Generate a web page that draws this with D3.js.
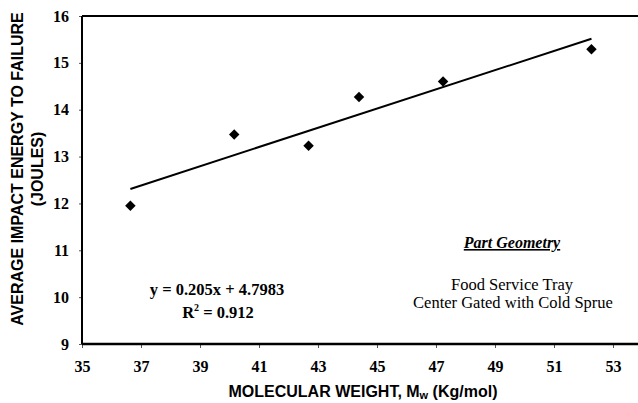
<!DOCTYPE html>
<html>
<head>
<meta charset="utf-8">
<script src="https://cdn.jsdelivr.net/npm/d3@7"></script>
<style>
  body { margin: 0; background: #fff; }
  svg { display: block; }
</style>
</head>
<body>
<div id="chart"></div>
<script>
// molecular weight (Kg/mol) vs. average impact energy to failure (joules)
const mw     = [36.64, 40.16, 42.68, 44.39, 47.24, 52.27]
const energy = [11.95, 13.47, 13.23, 14.27, 14.60, 15.29]

const xTicks = [35, 37, 39, 41, 43, 45, 47, 49, 51, 53]
const yTicks = [9, 10, 11, 12, 13, 14, 15, 16]

// linear trend from the chart's own fit
const slope = 0.205
const intercept = 4.7983

const W = 638, H = 403
const m = { top: 16, left: 82, bottom: 59 }
const plotW = 531   // 35..53
const plotH = H - m.top - m.bottom

const svg = d3.select("#chart").append("svg")
  .attr("width", W).attr("height", H)

const g = svg.append("g").attr("transform", `translate(${m.left},${m.top})`)

const x = d3.scaleLinear().domain([35, 53]).range([0, plotW])
const y = d3.scaleLinear().domain([9, 16]).range([plotH, 0])

const serif = "'Liberation Serif', 'Times New Roman', serif"
const sans  = "'Liberation Sans', Arial, sans-serif"

// frame top edge (right side runs off the picture)
g.append("line")
  .attr("x1", 0).attr("x2", W).attr("y1", 0).attr("y2", 0)
  .attr("stroke", "#000").attr("stroke-width", 2)

// x axis
const xAxis = g.append("g")
  .attr("transform", `translate(0,${plotH})`)
  .call(d3.axisBottom(x).tickValues(xTicks).tickFormat(d3.format("d")).tickSize(4).tickPadding(13))
xAxis.select(".domain").remove()
xAxis.append("line")
  .attr("x1", 0).attr("x2", W).attr("stroke", "#000").attr("stroke-width", 2.5)
xAxis.selectAll(".tick line").attr("stroke", "#555")
xAxis.selectAll("text")
  .style("font-family", serif).style("font-weight", "bold").style("font-size", "16px")
  .attr("fill", "#000")

// y axis
const yAxis = g.append("g")
  .call(d3.axisLeft(y).tickValues(yTicks).tickFormat(d3.format("d")).tickSize(3).tickPadding(10))
yAxis.select(".domain").remove()
yAxis.append("line")
  .attr("y1", 0).attr("y2", plotH).attr("stroke", "#000").attr("stroke-width", 2)
yAxis.selectAll(".tick line").attr("stroke", "#555")
yAxis.selectAll("text")
  .style("font-family", serif).style("font-weight", "bold").style("font-size", "16px")
  .attr("fill", "#000")

// trend line across the range of the data
const xMin = d3.min(mw), xMax = d3.max(mw)
g.append("line")
  .attr("x1", x(xMin)).attr("y1", y(slope * xMin + intercept))
  .attr("x2", x(xMax)).attr("y2", y(slope * xMax + intercept))
  .attr("stroke", "#000").attr("stroke-width", 2)

// diamond markers
const diamond = d3.symbol().type(d3.symbolDiamond2).size(70)
g.selectAll(".pt")
  .data(mw.map((d, i) => ({ x: d, y: energy[i] })))
  .join("path")
  .attr("class", "pt")
  .attr("transform", d => `translate(${x(d.x)},${y(d.y)})`)
  .attr("d", diamond)
  .attr("fill", "#000")

// regression text
svg.append("text")
  .attr("x", 217).attr("y", 295)
  .attr("text-anchor", "middle")
  .style("font-family", serif).style("font-weight", "bold").style("font-size", "16.5px")
  .text("y = 0.205x + 4.7983")

const r2 = svg.append("text")
  .attr("x", 218).attr("y", 318)
  .attr("text-anchor", "middle")
  .style("font-family", serif).style("font-weight", "bold").style("font-size", "16.5px")
r2.append("tspan").text("R")
r2.append("tspan").attr("dy", -7).style("font-size", "10px").text("2")
r2.append("tspan").attr("dy", 7).text(" = 0.912")

// part geometry note
svg.append("text")
  .attr("x", 512).attr("y", 248)
  .attr("text-anchor", "middle")
  .style("font-family", serif).style("font-weight", "bold").style("font-style", "italic")
  .style("font-size", "16px").style("text-decoration", "underline")
  .text("Part Geometry")

svg.append("text")
  .attr("x", 512).attr("y", 290)
  .attr("text-anchor", "middle")
  .style("font-family", serif).style("font-size", "16.5px")
  .text("Food Service Tray")

svg.append("text")
  .attr("x", 513).attr("y", 308)
  .attr("text-anchor", "middle")
  .style("font-family", serif).style("font-size", "16.5px")
  .text("Center Gated with Cold Sprue")

// axis titles
const yTitle = svg.append("text")
  .attr("transform", `translate(23,${m.top + 153}) rotate(-90)`)
  .attr("text-anchor", "middle")
  .style("font-family", sans).style("font-weight", "bold").style("font-size", "16px")
yTitle.append("tspan").attr("x", 0).attr("dy", 0).text("AVERAGE IMPACT ENERGY TO FAILURE")
yTitle.append("tspan").attr("x", 0).attr("dy", 20).text("(JOULES)")

const xTitle = svg.append("text")
  .attr("x", 363).attr("y", 397)
  .attr("text-anchor", "middle")
  .style("font-family", sans).style("font-weight", "bold").style("font-size", "16px")
xTitle.append("tspan").text("MOLECULAR WEIGHT, M")
xTitle.append("tspan").attr("dy", 2).style("font-size", "11px").text("w")
xTitle.append("tspan").attr("dy", -2).text(" (Kg/mol)")
</script>
</body>
</html>
